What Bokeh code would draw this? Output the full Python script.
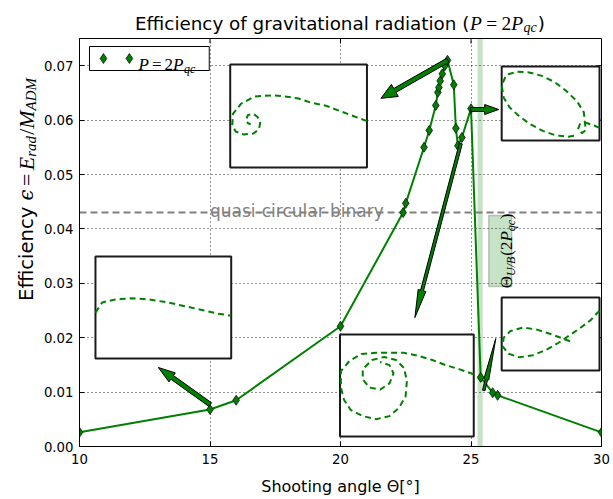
import glob
import math
from bokeh.plotting import figure
from bokeh.layouts import column, row
from bokeh.models import (Range1d, Label, Span, BoxAnnotation, FixedTicker, NumeralTickFormatter)
from bokeh.embed import file_html
from bokeh.resources import INLINE

try:
    from PIL import ImageFont
except Exception:
    ImageFont = None

# ---------------- data ----------------
theta = [10.0, 15.0, 16.0, 20.0, 22.4, 22.5, 23.2, 23.4, 23.65, 23.73, 23.77, 23.82,
         23.9, 24.0, 24.1, 24.34, 24.42, 24.5, 24.65, 25.0, 25.37, 25.83, 26.02, 30.0]
eff = [0.0026, 0.0068, 0.0085, 0.0221, 0.0430, 0.0447, 0.0550, 0.0581, 0.0627, 0.0651,
       0.0660, 0.0672, 0.0685, 0.0700, 0.0710, 0.0665, 0.0585, 0.0553, 0.0568, 0.0621,
       0.0127, 0.0099, 0.0094, 0.0026]

x_ticks = [10, 15, 20, 25, 30]
y_ticks = [0.00, 0.01, 0.02, 0.03, 0.04, 0.05, 0.06, 0.07]
qc_level = 0.043
qc_text = "quasi-circular binary"
ub_band = (25.25, 25.45)

# arrows: tail -> tip (data units)
arr_tail_x = [24.11, 24.99, 24.61, 15.01, 25.49]
arr_tail_y = [0.0710, 0.06195, 0.0557, 0.0077, 0.0103]
arr_tip_x = [21.55, 26.06, 22.85, 13.02, 25.95]
arr_tip_y = [0.0640, 0.06195, 0.0237, 0.01452, 0.01985]

# inset orbits (normalized inset coordinates)
orbA_x = [1.00, 0.90, 0.80, 0.70, 0.59, 0.50, 0.40, 0.31, 0.18, 0.08, 0.02, 0.015, 0.04, 0.10,
          0.17, 0.21, 0.22, 0.20, 0.17, 0.13, 0.115, 0.13, 0.15]
orbA_y = [0.45, 0.50, 0.55, 0.60, 0.63, 0.67, 0.69, 0.70, 0.69, 0.62, 0.52, 0.41, 0.35, 0.32,
          0.33, 0.37, 0.44, 0.49, 0.52, 0.51, 0.46, 0.43, 0.42]
orbB_x = [1.00, 0.93, 0.86, 0.80, 0.78, 0.82, 0.86, 0.85, 0.84, 0.77, 0.66, 0.54, 0.42, 0.28,
          0.16, 0.05, 0.00, 0.02, 0.08, 0.16, 0.28, 0.42, 0.55, 0.68, 0.76]
orbB_y = [0.17, 0.21, 0.24, 0.22, 0.15, 0.10, 0.14, 0.25, 0.38, 0.53, 0.67, 0.79, 0.87, 0.92,
          0.93, 0.89, 0.75, 0.58, 0.45, 0.35, 0.23, 0.13, 0.07, 0.05, 0.07]
orbC_x = [0.00, 0.05, 0.15, 0.26, 0.39, 0.53, 0.67, 0.80, 0.90, 1.00]
orbC_y = [0.45, 0.55, 0.58, 0.59, 0.58, 0.55, 0.51, 0.47, 0.44, 0.42]
orbD_x = [1.00, 0.89, 0.79, 0.69, 0.59, 0.48, 0.38, 0.27, 0.16, 0.07, 0.007, 0.007, 0.03, 0.08,
          0.17, 0.27, 0.37, 0.44, 0.49, 0.50, 0.48, 0.42, 0.33, 0.24, 0.17, 0.17, 0.22, 0.30,
          0.37, 0.40, 0.37, 0.30]
orbD_y = [0.61, 0.66, 0.70, 0.75, 0.79, 0.82, 0.82, 0.82, 0.81, 0.74, 0.64, 0.48, 0.36, 0.26,
          0.20, 0.17, 0.20, 0.28, 0.39, 0.54, 0.67, 0.75, 0.78, 0.75, 0.66, 0.56, 0.48, 0.46,
          0.52, 0.62, 0.70, 0.73]
orbE_x = [1.00, 0.91, 0.79, 0.67, 0.57, 0.45, 0.32, 0.18, 0.07, 0.01, 0.02, 0.09, 0.22, 0.36,
          0.50, 0.62, 0.70]
orbE_y = [0.82, 0.69, 0.57, 0.46, 0.37, 0.28, 0.21, 0.18, 0.23, 0.33, 0.45, 0.54, 0.59, 0.56,
          0.50, 0.44, 0.40]

# ---------------- layout (page pixels) ----------------
W, H = 613, 499
FL, FR, FT, FB = 78, 601, 38, 446
TITLE_H = 35          # height of the strip holding the title
YLAB_W = 40           # width of the strip holding the y label
XMIN, XMAX, YMIN, YMAX = 10.0, 30.0, 0.0, 0.075
GREEN = "#008000"

insets = [((229, 64, 366, 167), orbA_x, orbA_y),
          ((501, 66, 599, 140), orbB_x, orbB_y),
          ((94, 256, 230, 358), orbC_x, orbC_y),
          ((339, 334, 473, 436), orbD_x, orbD_y),
          ((501, 297, 599, 370), orbE_x, orbE_y)]
# arrow shapes in pixels: (body width, head width, head length)
arrow_style = [(4.5, 14, 16), (4, 10, 14), (3, 8, 28), (4.5, 11, 17), (2.5, 5, 42)]


def dxp(px):
    return XMIN + (px - FL) / (FR - FL) * (XMAX - XMIN)


def dyp(py):
    return YMIN + (FB - py) / (FB - FT) * (YMAX - YMIN)


def pxx(x):
    return FL + (x - XMIN) / (XMAX - XMIN) * (FR - FL)


def pxy(y):
    return FB - (y - YMIN) / (YMAX - YMIN) * (FB - FT)


FONTS = {
    "sans": ("DejaVu Sans", "normal", "DejaVuSans.ttf"),
    "mi": ("Liberation Serif", "italic", "LiberationSerif-Italic.ttf"),
    "mr": ("Liberation Serif", "normal", "LiberationSerif-Regular.ttf"),
    "gi": ("DejaVu Serif", "italic", "DejaVuSerif-Italic.ttf"),
}
_paths = {}


def _find(fname):
    if fname not in _paths:
        hit = None
        for root in ("/usr/share/fonts", "/usr/local/share/fonts", "/usr/share", "/usr/local/share"):
            h = glob.glob(root + "/**/" + fname, recursive=True)
            if h:
                hit = h[0]
                break
        _paths[fname] = hit
    return _paths[fname]


def tw(text, key, size):
    path = _find(FONTS[key][2])
    if ImageFont is not None and path:
        try:
            f = ImageFont.truetype(path, size)
        except Exception:
            f = ImageFont.truetype(path, int(round(size)))
        return f.getlength(text)
    return 0.58 * size * len(text)


def compose(fig, ox, oy, fh, pieces, px0, py0, angle=0.0, color="black", center=True,
            fit=None):
    """Place a run of text pieces; (ox, oy) is the page offset of fig, fh its height."""
    scale = 1.0
    if fit is not None:
        tot = sum(tw(t, k, s) + g for (t, k, s, sh, g) in pieces)
        scale = fit / tot
    pcs = [(t, k, s * scale, sh * scale, g * scale) for (t, k, s, sh, g) in pieces]
    widths = [tw(t, k, s) + g for (t, k, s, sh, g) in pcs]
    total = sum(widths)
    pos = -total / 2 if center else 0.0
    for (t, k, s, sh, g), wdt in zip(pcs, widths):
        fam, sty, _ = FONTS[k]
        if angle == 0:
            px, py = px0 + pos, py0 + sh
        else:
            px, py = px0 + sh, py0 - pos
        fig.add_layout(Label(x=px - ox, y=fh - (py - oy), x_units="screen", y_units="screen",
                             text=t, text_font=fam, text_font_style=sty,
                             text_font_size=f"{s:.2f}px", text_color=color, text_align="left",
                             text_baseline="alphabetic", angle=angle))
        pos += wdt


def blank(width, height):
    f = figure(width=width, height=height, x_axis_type=None, y_axis_type=None,
               x_range=Range1d(0, 1), y_range=Range1d(0, 1), output_backend="svg",
               toolbar_location=None, min_border=0, title=None)
    f.outline_line_color = None
    f.background_fill_color = "white"
    f.border_fill_color = "white"
    return f


# ---------------- main plot ----------------
MAIN_W = W - YLAB_W
MAIN_H = H - TITLE_H
p = figure(width=MAIN_W, height=MAIN_H, x_range=Range1d(XMIN, XMAX),
           y_range=Range1d(YMIN, YMAX), output_backend="svg", toolbar_location=None,
           title=None, min_border_left=FL - YLAB_W, min_border_right=W - FR,
           min_border_top=FT - TITLE_H, min_border_bottom=H - FB)
p.background_fill_color = "white"
p.border_fill_color = "white"
p.outline_line_color = "black"
p.outline_line_width = 1

axis_style = dict(major_tick_in=5, major_tick_out=0, minor_tick_line_color=None,
                  axis_line_color="black", axis_line_width=1, major_tick_line_color="black",
                  major_tick_line_width=1, major_label_text_font="DejaVu Sans",
                  major_label_text_font_size="13.3px", major_label_text_color="black")
for k, v in axis_style.items():
    setattr(p.xaxis, k, v)
    setattr(p.yaxis, k, v)
p.xaxis.ticker = FixedTicker(ticks=x_ticks)
p.yaxis.ticker = FixedTicker(ticks=y_ticks)
p.yaxis.formatter = NumeralTickFormatter(format="0.00")
p.xaxis.major_label_standoff = 7
p.yaxis.major_label_standoff = 6
p.xaxis.axis_label = "Shooting angle Θ[°]"
p.xaxis.axis_label_text_font = "DejaVu Sans"
p.xaxis.axis_label_text_font_size = "16px"
p.xaxis.axis_label_text_font_style = "normal"
p.xaxis.axis_label_text_color = "black"
p.xaxis.axis_label_standoff = 10

p.grid.grid_line_color = "black"
p.grid.grid_line_dash = "1 3"
p.grid.grid_line_width = 1
p.grid.grid_line_alpha = 0.85

# inward ticks on the top and right edges
tick_len_x = dyp(FT) - dyp(FT + 5)
tick_len_y = dxp(FR) - dxp(FR - 5)
p.segment(x0=x_ticks, x1=x_ticks, y0=[YMAX] * len(x_ticks), y1=[YMAX - tick_len_x] * len(x_ticks),
          line_color="black", line_width=1)
p.segment(x0=[XMAX] * len(y_ticks), x1=[XMAX - tick_len_y] * len(y_ticks), y0=y_ticks,
          y1=y_ticks, line_color="black", line_width=1)

# U/B band and quasi-circular line
p.add_layout(BoxAnnotation(left=ub_band[0], right=ub_band[1], fill_color=GREEN, fill_alpha=0.22,
                           line_color=None, level="underlay"))
p.add_layout(Span(location=qc_level, dimension="width", line_color="#808080", line_width=2,
                  line_dash="7 4", level="underlay"))
p.add_layout(Label(x=15.0, y=qc_level, y_offset=2, text=qc_text, text_font="DejaVu Sans",
                   text_font_size="17px", text_color="#808080", text_baseline="alphabetic"))

# insets
for (l, t, r, b), ox_, oy_ in insets:
    p.quad(left=[dxp(l)], right=[dxp(r)], top=[dyp(t)], bottom=[dyp(b)], fill_color="white",
           line_color="#1a1a1a", line_width=2)
    xs = [dxp(l + nx * (r - l)) for nx in ox_]
    ys = [dyp(b - ny * (b - t)) for ny in oy_]
    p.line(xs, ys, line_color=GREEN, line_width=2, line_dash="6 4")

# main data
p.line(theta, eff, line_color=GREEN, line_width=2)
p.scatter(theta, eff, marker="diamond", size=10, fill_color=GREEN, line_color="black",
          line_width=0.7)


def arrow_poly(tx, ty, hx, hy, w, hw, hl):
    ax_, ay_ = pxx(tx), pxy(ty)
    bx_, by_ = pxx(hx), pxy(hy)
    L = math.hypot(bx_ - ax_, by_ - ay_)
    ux, uy = (bx_ - ax_) / L, (by_ - ay_) / L
    nx, ny = -uy, ux
    hl = min(hl, L)
    cx, cy = bx_ - ux * hl, by_ - uy * hl
    pts = [(ax_ + nx * w / 2, ay_ + ny * w / 2), (cx + nx * w / 2, cy + ny * w / 2),
           (cx + nx * hw / 2, cy + ny * hw / 2), (bx_, by_),
           (cx - nx * hw / 2, cy - ny * hw / 2), (cx - nx * w / 2, cy - ny * w / 2),
           (ax_ - nx * w / 2, ay_ - ny * w / 2)]
    return [dxp(a) for a, _ in pts], [dyp(c) for _, c in pts]


axs, ays = [], []
for i in range(len(arr_tail_x)):
    w_, hw_, hl_ = arrow_style[i]
    xs_, ys_ = arrow_poly(arr_tail_x[i], arr_tail_y[i], arr_tip_x[i], arr_tip_y[i], w_, hw_, hl_)
    axs.append(xs_)
    ays.append(ys_)
p.patches(axs, ays, fill_color=GREEN, line_color="black", line_width=1)

# legend
p.quad(left=[dxp(88)], right=[dxp(208)], top=[dyp(46)], bottom=[dyp(70)], fill_color="white",
       line_color="black", line_width=1)
p.scatter([dxp(102), dxp(128)], [dyp(58), dyp(58)], marker="diamond", size=10,
          fill_color=GREEN, line_color="black", line_width=0.7)
compose(p, FL, FT, FB - FT,
        [("P", "mi", 17, 0, 3), ("=", "mr", 17, 0, 3), ("2", "mr", 17, 0, 0),
         ("P", "mi", 17, 0, 0.5), ("qc", "mi", 12, 4, 0)], 137, 64, center=False)

# U/B label box
p.quad(left=[dxp(488)], right=[dxp(511)], top=[dyp(215)], bottom=[dyp(286)], fill_color=GREEN,
       fill_alpha=0.22, line_color="black", line_alpha=0.2, line_width=1.5)
compose(p, FL, FT, FB - FT,
        [("Θ", "mr", 17, 0, 0), ("U/B", "mi", 12, 4, 1), ("(2", "mr", 17, 0, 0),
         ("P", "mi", 17, 0, 0), ("qc", "mi", 12, 4, 0.5), (")", "mr", 17, 0, 0)],
        505, 250.5, angle=math.pi / 2)

# ---------------- title strip ----------------
tfig = blank(W, TITLE_H)
compose(tfig, 0, 0, TITLE_H,
        [("Efficiency of gravitational radiation (", "sans", 17, 0, 0.5),
         ("P", "mi", 18, 0, 4), ("=", "mr", 18, 0, 4), ("2", "mr", 18, 0, 0),
         ("P", "mi", 18, 0, 0.5), ("qc", "mi", 13, 4, 1), (")", "sans", 17, 0, 0)],
        (FL + FR) / 2, 23, fit=410)

# ---------------- y-label strip ----------------
yfig = blank(YLAB_W, MAIN_H)
compose(yfig, 0, TITLE_H, MAIN_H,
        [("Efficiency ", "sans", 17, 0, 0), ("ϵ", "gi", 17, 0, 3), ("=", "mr", 19, 0, 3),
         ("E", "mi", 19, 0, 0), ("rad", "mi", 13, 4, 1), ("/", "mr", 19, 0, 0),
         ("M", "mi", 19, 0, 0), ("ADM", "mi", 13, 4, 0)],
        26, (FT + FB) / 2, angle=math.pi / 2, fit=223)

layout = column(tfig, row(yfig, p, spacing=0), spacing=0)
open("out.html", "w").write(file_html(layout, INLINE))
